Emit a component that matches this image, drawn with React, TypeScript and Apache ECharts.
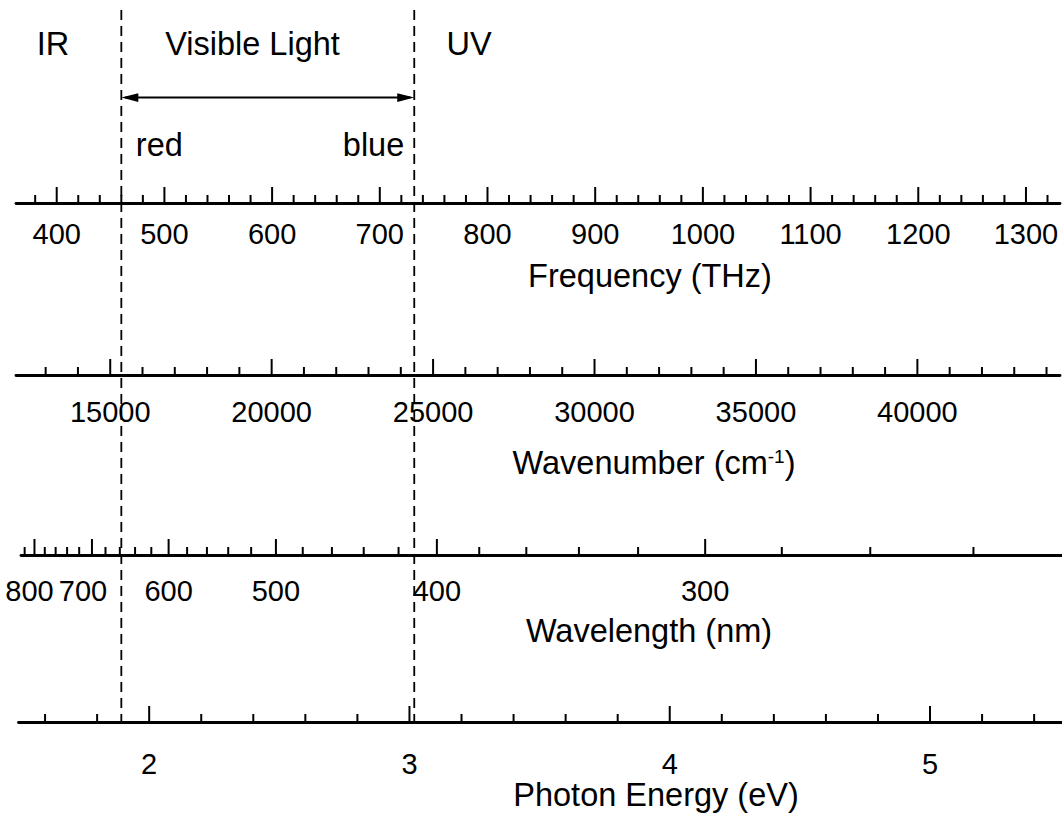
import React, { useEffect, useRef } from "react";
import * as echarts from "echarts";

const FONT = '"Liberation Sans", Arial, Helvetica, sans-serif';

// Conversions between each scale and frequency in THz
const NM_THZ = 299792.458; // wavelength (nm) x frequency (THz)
const THZ_PER_WAVENUMBER = 0.0299792458; // 1 cm^-1 expressed in THz
const THZ_PER_EV = 241.798924; // 1 eV expressed in THz

// Frequency span shared by all four axes (THz)
const FREQ_MIN = 362.2;
const FREQ_MAX = 1331.6;

// Frequency axis (THz)
const frequencyLabels = [400, 500, 600, 700, 800, 900, 1000, 1100, 1200, 1300];
const frequencyMinorStep = 20;

// Wavenumber axis (cm^-1)
const wavenumberLabels = [15000, 20000, 25000, 30000, 35000, 40000];
const wavenumberMinorStep = 1000;

// Wavelength axis (nm), reciprocal in frequency
const wavelengthLabels = [800, 700, 600, 500, 400, 300];
const wavelengthMinor = [
  820, 780, 760, 740, 720, 680, 660, 640, 620, 580, 560, 540, 520, 480, 460,
  440, 420, 380, 360, 340, 320, 280, 260, 240,
];

// Photon energy axis (eV)
const energyLabels = [2, 3, 4, 5];
const energyMinorStep = 0.2;

// Limits of the visible band (THz): red end, blue end
const visibleLimits = [460, 732];
const visibleLimitLabels = ["red", "blue"];

type Tick = { f: number; major: boolean; label: string; dx: number };

// Regular ticks of a linear scale, converted to frequency
function steppedTicks(
  labels: number[],
  step: number,
  toTHz: (v: number) => number,
  fromTHz: (f: number) => number
): Tick[] {
  const lo = fromTHz(FREQ_MIN);
  const hi = fromTHz(FREQ_MAX);
  const ticks: Tick[] = [];
  for (let k = Math.ceil(lo / step - 1e-9); k * step <= hi + 1e-9; k++) {
    const v = +(k * step).toFixed(6);
    const major = labels.some((l) => Math.abs(l - v) < 1e-6);
    ticks.push({ f: toTHz(v), major, label: major ? String(v) : "", dx: 0 });
  }
  return ticks;
}

const frequencyTicks = steppedTicks(
  frequencyLabels,
  frequencyMinorStep,
  (v) => v,
  (f) => f
);
const wavenumberTicks = steppedTicks(
  wavenumberLabels,
  wavenumberMinorStep,
  (v) => v * THZ_PER_WAVENUMBER,
  (f) => f / THZ_PER_WAVENUMBER
);
const energyTicks = steppedTicks(
  energyLabels,
  energyMinorStep,
  (v) => v * THZ_PER_EV,
  (f) => f / THZ_PER_EV
);

// Crowded labels at the long-wavelength end are nudged left
const wavelengthLabelNudge: Record<number, number> = { 800: -5, 700: -9 };
const wavelengthTicks: Tick[] = [
  ...wavelengthLabels.map((nm) => ({
    f: NM_THZ / nm,
    major: true,
    label: String(nm),
    dx: wavelengthLabelNudge[nm] ?? 0,
  })),
  ...wavelengthMinor.map((nm) => ({ f: NM_THZ / nm, major: false, label: "", dx: 0 })),
];

const AXIS_LEFT = 16;
const AXIS_WIDTH = 1044;

const axes = [
  { ticks: frequencyTicks, baseline: 203, shift: 0, labelGap: 31 },
  { ticks: wavenumberTicks, baseline: 375, shift: 0, labelGap: 37 },
  { ticks: wavelengthTicks, baseline: 555, shift: 5, labelGap: 35.5 },
  { ticks: energyTicks, baseline: 722, shift: 2.5, labelGap: 42 },
];

const titles = [
  { text: "Frequency (THz)", x: 650, y: 276 },
  { text: "{m|Wavenumber (cm}{s|-1}{m|)}", x: 654, y: 463 },
  { text: "Wavelength (nm)", x: 649, y: 631 },
  { text: "Photon Energy (eV)", x: 656, y: 795 },
];

const regionLabels = [
  { text: "IR", x: 53, y: 44 },
  { text: "Visible Light", x: 252.5, y: 44 },
  { text: "UV", x: 469, y: 44 },
];

const TITLE_SIZE = 32.5;
const LABEL_SIZE = 29;

function textStyle(text: string, size: number, align: string) {
  return {
    text,
    fill: "#000",
    fontSize: size,
    fontFamily: FONT,
    align,
    verticalAlign: "middle",
    textAlign: align,
    textVerticalAlign: "middle",
  };
}

function buildOption(): any {
  const overlayIndex = axes.length;
  const grid: any[] = axes.map((a) => ({
    left: AXIS_LEFT + a.shift,
    width: AXIS_WIDTH,
    top: a.baseline - 30,
    height: 30,
  }));
  grid.push({ left: AXIS_LEFT, width: AXIS_WIDTH, top: 10, height: 712 });

  const xAxis: any[] = axes.map((_, i) => ({
    gridIndex: i,
    type: "value",
    min: FREQ_MIN,
    max: FREQ_MAX,
    axisLine: { show: true, onZero: false, lineStyle: { color: "#000", width: 2.8 } },
    axisTick: { show: false },
    axisLabel: { show: false },
    splitLine: { show: false },
  }));
  xAxis.push({
    gridIndex: overlayIndex,
    type: "value",
    min: FREQ_MIN,
    max: FREQ_MAX,
    show: false,
  });

  const yAxis: any[] = grid.map((_, i) => ({
    gridIndex: i,
    type: "value",
    min: 0,
    max: 1,
    show: false,
  }));

  const series: any[] = axes.map((a, i) => ({
    type: "custom",
    xAxisIndex: i,
    yAxisIndex: i,
    clip: false,
    silent: true,
    data: a.ticks.map((t) => [t.f, 0]),
    renderItem: (params: any, api: any) => {
      const t = a.ticks[params.dataIndex];
      const [x, y] = api.coord([t.f, 0]);
      const len = t.major ? 16 : 8;
      const children: any[] = [
        {
          type: "line",
          shape: { x1: x, y1: y, x2: x, y2: y - len },
          style: { stroke: "#000", lineWidth: 2 },
        },
      ];
      if (t.label) {
        children.push({
          type: "text",
          x: x + t.dx,
          y: y + a.labelGap,
          style: textStyle(t.label, LABEL_SIZE, "center"),
        });
      }
      return { type: "group", children };
    },
  }));

  // Dashed limits of the visible band with their colour names
  series.push({
    type: "custom",
    xAxisIndex: overlayIndex,
    yAxisIndex: overlayIndex,
    clip: false,
    silent: true,
    data: visibleLimits.map((f) => [f, 0]),
    renderItem: (params: any, api: any) => {
      const f = visibleLimits[params.dataIndex];
      const top = api.coord([f, 1]);
      const bottom = api.coord([f, 0]);
      const isRed = params.dataIndex === 0;
      return {
        type: "group",
        children: [
          {
            type: "line",
            shape: { x1: top[0], y1: top[1], x2: bottom[0], y2: bottom[1] },
            style: { stroke: "#000", lineWidth: 1.8, lineDash: [10, 6] },
          },
          {
            type: "text",
            x: isRed ? top[0] + 14.5 : top[0] - 10,
            y: top[1] + 135,
            style: textStyle(
              visibleLimitLabels[params.dataIndex],
              TITLE_SIZE,
              isRed ? "left" : "right"
            ),
          },
        ],
      };
    },
  });

  // Double-headed arrow spanning the visible band
  series.push({
    type: "custom",
    xAxisIndex: overlayIndex,
    yAxisIndex: overlayIndex,
    clip: false,
    silent: true,
    data: [[visibleLimits[0], 0]],
    renderItem: (_params: any, api: any) => {
      const a = api.coord([visibleLimits[0], 1]);
      const b = api.coord([visibleLimits[1], 1]);
      const y = a[1] + 87.6;
      const head = 17;
      const half = 4.3;
      return {
        type: "group",
        children: [
          {
            type: "line",
            shape: { x1: a[0] + 4, y1: y, x2: b[0] - 4, y2: y },
            style: { stroke: "#000", lineWidth: 2 },
          },
          {
            type: "polygon",
            shape: {
              points: [
                [a[0], y],
                [a[0] + head, y - half],
                [a[0] + head, y + half],
              ],
            },
            style: { fill: "#000" },
          },
          {
            type: "polygon",
            shape: {
              points: [
                [b[0], y],
                [b[0] - head, y - half],
                [b[0] - head, y + half],
              ],
            },
            style: { fill: "#000" },
          },
        ],
      };
    },
  });

  const graphic: any[] = [
    ...titles.map((t) => ({
      type: "text",
      x: t.x,
      y: t.y,
      silent: true,
      style: {
        ...textStyle(t.text, TITLE_SIZE, "center"),
        rich: {
          m: { fontSize: TITLE_SIZE, fontFamily: FONT, fill: "#000" },
          s: { fontSize: 19, fontFamily: FONT, fill: "#000", verticalAlign: "top" },
        },
      },
    })),
    ...regionLabels.map((t) => ({
      type: "text",
      x: t.x,
      y: t.y,
      silent: true,
      style: textStyle(t.text, TITLE_SIZE, "center"),
    })),
  ];

  return {
    animation: false,
    backgroundColor: "#fff",
    grid,
    xAxis,
    yAxis,
    series,
    graphic,
  };
}

export default function App() {
  const ref = useRef<HTMLDivElement>(null);
  useEffect(() => {
    if (!ref.current) return;
    const chart = echarts.init(ref.current, undefined, { renderer: "svg" });
    chart.setOption(buildOption());
    return () => chart.dispose();
  }, []);
  return (
    <div
      ref={ref}
      style={{ position: "fixed", left: 0, top: 0, width: 1062, height: 818, background: "#fff" }}
    />
  );
}
